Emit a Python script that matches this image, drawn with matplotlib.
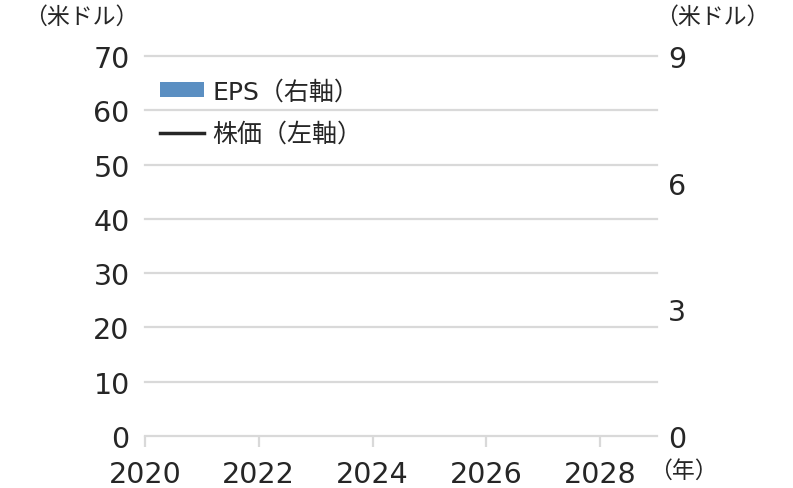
import matplotlib
matplotlib.use('Agg')
from matplotlib import pyplot as plt
from matplotlib.patches import Patch
from matplotlib.lines import Line2D

plt.rcParams['font.family'] = ['DejaVu Sans', 'Noto Sans CJK JP']

# data (the reference shows no plotted values)
years = []
eps = []        # right axis, USD
price = []      # left axis, USD
xticks = [2020, 2022, 2024, 2026, 2028]
left_ticks = [0, 10, 20, 30, 40, 50, 60, 70]
right_ticks = [0, 3, 6, 9]

eps_color = '#5b8fc2'
price_color = '#262626'
grid_color = '#d9d9d9'
text_color = '#262626'
cjk = ['Noto Sans CJK JP', 'DejaVu Sans']

fig = plt.figure(figsize=(7.93, 4.89), dpi=100)
ax = fig.add_axes([0.1828, 0.1063, 0.6457, 0.7771])
ax2 = ax.twinx()

ax2.bar(years, eps, color=eps_color, width=0.6)
ax.plot(years, price, color=price_color, linewidth=2.5)
ax.set_zorder(ax2.get_zorder() + 1)
ax.patch.set_visible(False)

ax.set_xlim(2020, 2029)
ax.set_ylim(0, 70)
ax2.set_ylim(0, 9)
ax.set_yticks(left_ticks)
ax2.set_yticks(right_ticks)
ax.set_xticks(xticks)

for a in (ax, ax2):
    for s in a.spines.values():
        s.set_visible(False)

ax.yaxis.grid(True, color=grid_color, linewidth=1.6)
for gl in ax.get_ygridlines():
    gl.set_clip_on(False)
ax.set_axisbelow(True)
ax.tick_params(axis='y', length=0, pad=11, labelsize=20.5, labelcolor=text_color)
ax2.tick_params(axis='y', length=0, pad=8, labelsize=20.5, labelcolor=text_color)
ax.tick_params(axis='x', length=8, width=1.6, color=grid_color, pad=9,
               labelsize=20.5, labelcolor=text_color)

fig.text(0.030, 0.965, '（米ドル）', fontsize=16.5, color=text_color,
         va='center', ha='left', family=cjk)
fig.text(0.826, 0.965, '（米ドル）', fontsize=16.5, color=text_color,
         va='center', ha='left', family=cjk)
fig.text(0.818, 0.036, '（年）', fontsize=16.5, color=text_color,
         va='center', ha='left', family=cjk)

handles = [Patch(facecolor=eps_color, edgecolor='none'),
           Line2D([], [], color=price_color, linewidth=2.5)]
leg = ax.legend(handles, ['EPS（右軸）', '株価（左軸）'], loc='upper left',
                bbox_to_anchor=(-0.014, 0.998), frameon=False, fontsize=18,
                handlelength=1.75, handleheight=0.5, handletextpad=0.33,
                labelspacing=0.75, labelcolor=text_color)

fig.savefig('out.png', dpi=100)
